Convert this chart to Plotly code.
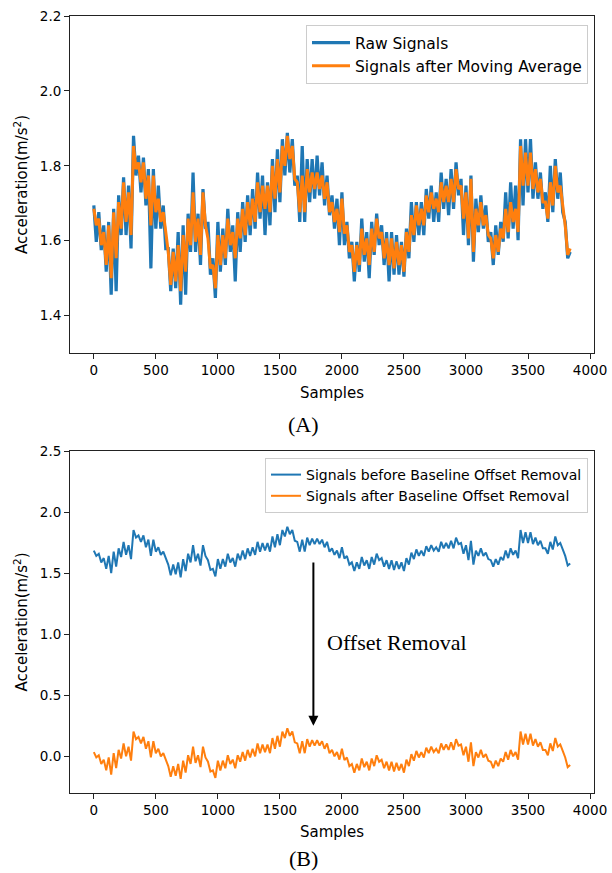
import plotly.graph_objects as go

# ---- data ----
# Band extents of each signal, read every 40 samples (0 ... 3840).
block = 40

raw_high = [
    1.694, 1.676, 1.641, 1.650, 1.685, 1.721, 1.769, 1.747, 1.880, 1.827,
    1.822, 1.791, 1.791, 1.747, 1.694, 1.579, 1.579, 1.623, 1.641, 1.672,
    1.782, 1.672, 1.738, 1.650, 1.553, 1.650, 1.632, 1.685, 1.641, 1.676,
    1.703, 1.721, 1.738, 1.782, 1.774, 1.756, 1.818, 1.844, 1.871, 1.888,
    1.871, 1.774, 1.853, 1.818, 1.818, 1.827, 1.809, 1.774, 1.721, 1.712,
    1.729, 1.650, 1.597, 1.597, 1.659, 1.623, 1.650, 1.672, 1.641, 1.623,
    1.623, 1.615, 1.597, 1.632, 1.703, 1.703, 1.703, 1.738, 1.747, 1.729,
    1.782, 1.765, 1.791, 1.809, 1.765, 1.747, 1.774, 1.712, 1.721, 1.694,
    1.623, 1.641, 1.650, 1.729, 1.756, 1.747, 1.871, 1.871, 1.871, 1.809,
    1.782, 1.729, 1.800, 1.818, 1.782, 1.650, 1.570,
]
raw_low = [
    1.597, 1.575, 1.517, 1.456, 1.465, 1.615, 1.615, 1.579, 1.774, 1.729,
    1.694, 1.526, 1.632, 1.632, 1.579, 1.465, 1.473, 1.429, 1.456, 1.570,
    1.570, 1.535, 1.632, 1.509, 1.447, 1.517, 1.535, 1.570, 1.491, 1.570,
    1.597, 1.615, 1.632, 1.659, 1.615, 1.641, 1.676, 1.703, 1.774, 1.782,
    1.747, 1.650, 1.650, 1.703, 1.712, 1.721, 1.694, 1.668, 1.632, 1.588,
    1.588, 1.553, 1.491, 1.517, 1.544, 1.500, 1.562, 1.588, 1.535, 1.491,
    1.509, 1.509, 1.504, 1.553, 1.597, 1.615, 1.615, 1.659, 1.650, 1.650,
    1.685, 1.668, 1.685, 1.721, 1.615, 1.588, 1.544, 1.623, 1.632, 1.597,
    1.535, 1.562, 1.597, 1.606, 1.632, 1.601, 1.694, 1.729, 1.712, 1.712,
    1.685, 1.650, 1.676, 1.712, 1.676, 1.553, 1.509,
]
ma_high = [
    1.685, 1.659, 1.623, 1.641, 1.676, 1.703, 1.756, 1.729, 1.853, 1.809,
    1.809, 1.774, 1.774, 1.712, 1.676, 1.570, 1.570, 1.588, 1.615, 1.659,
    1.729, 1.659, 1.729, 1.606, 1.535, 1.615, 1.615, 1.659, 1.623, 1.659,
    1.685, 1.703, 1.712, 1.756, 1.747, 1.747, 1.800, 1.818, 1.853, 1.880,
    1.853, 1.756, 1.774, 1.791, 1.782, 1.782, 1.774, 1.756, 1.703, 1.685,
    1.712, 1.641, 1.588, 1.588, 1.632, 1.606, 1.632, 1.659, 1.623, 1.606,
    1.606, 1.597, 1.588, 1.623, 1.668, 1.694, 1.685, 1.721, 1.729, 1.712,
    1.756, 1.747, 1.765, 1.791, 1.747, 1.729, 1.765, 1.685, 1.703, 1.668,
    1.606, 1.615, 1.632, 1.685, 1.703, 1.685, 1.853, 1.835, 1.835, 1.791,
    1.765, 1.703, 1.756, 1.800, 1.747, 1.641, 1.579,
]
ma_low = [
    1.641, 1.588, 1.535, 1.500, 1.553, 1.632, 1.650, 1.615, 1.791, 1.756,
    1.712, 1.641, 1.676, 1.650, 1.615, 1.482, 1.491, 1.465, 1.517, 1.588,
    1.597, 1.562, 1.641, 1.526, 1.473, 1.535, 1.553, 1.588, 1.553, 1.606,
    1.615, 1.641, 1.650, 1.676, 1.685, 1.676, 1.712, 1.729, 1.800, 1.818,
    1.765, 1.676, 1.676, 1.729, 1.738, 1.738, 1.712, 1.676, 1.650, 1.623,
    1.619, 1.570, 1.517, 1.535, 1.562, 1.535, 1.570, 1.606, 1.553, 1.535,
    1.526, 1.535, 1.517, 1.570, 1.615, 1.641, 1.641, 1.676, 1.685, 1.676,
    1.703, 1.703, 1.703, 1.738, 1.659, 1.606, 1.570, 1.641, 1.641, 1.615,
    1.553, 1.570, 1.606, 1.623, 1.650, 1.623, 1.747, 1.747, 1.738, 1.729,
    1.703, 1.659, 1.694, 1.729, 1.694, 1.562, 1.535,
]

baseline_offset = 1.65

x_ticks = [0, 500, 1000, 1500, 2000, 2500, 3000, 3500, 4000]
top_y_ticks = [1.4, 1.6, 1.8, 2.0, 2.2]
bottom_y_ticks = [0.0, 0.5, 1.0, 1.5, 2.0, 2.5]


def band_to_line(low, high):
    """Draw each 40-sample block's band as a high/low zig-zag stroke."""
    xs, ys = [], []
    for i, (lo, hi) in enumerate(zip(low, high)):
        base = i * block
        xs += [base, base + block / 2]
        ys += [hi, lo]
    return xs[:-1], ys[:-1]


raw_x, raw_y = band_to_line(raw_low, raw_high)
ma_x, ma_y = band_to_line(ma_low, ma_high)
removed_y = [v - baseline_offset for v in ma_y]

BLUE = "#1f77b4"
ORANGE = "#ff7f0e"
W, H = 612, 873

fig = go.Figure()
fig.add_trace(go.Scatter(x=raw_x, y=raw_y, mode="lines", name="Raw Signals",
                         line=dict(color=BLUE, width=3.2), xaxis="x", yaxis="y", legend="legend"))
fig.add_trace(go.Scatter(x=ma_x, y=ma_y, mode="lines", name="Signals after Moving Average",
                         line=dict(color=ORANGE, width=3.0), xaxis="x", yaxis="y", legend="legend"))
fig.add_trace(go.Scatter(x=ma_x, y=ma_y, mode="lines", name="Signals before Baseline Offset Removal",
                         line=dict(color=BLUE, width=2.0), xaxis="x2", yaxis="y2", legend="legend2"))
fig.add_trace(go.Scatter(x=ma_x, y=removed_y, mode="lines", name="Signals after Baseline Offset Removal",
                         line=dict(color=ORANGE, width=2.0), xaxis="x2", yaxis="y2", legend="legend2"))

tick_font = dict(family="DejaVu Sans", size=13.5, color="#000000")
axis_common = dict(showline=True, linecolor="#222222", linewidth=1, mirror=True,
                   ticks="outside", ticklen=5, tickwidth=1, tickcolor="#222222",
                   showgrid=False, zeroline=False, tickfont=tick_font, automargin=False)

xdom = [70 / W, 594 / W]
title_font = dict(family="DejaVu Sans", size=15, color="#000000")
fig.update_layout(
    width=W, height=H,
    margin=dict(l=0, r=0, t=0, b=0, autoexpand=False),
    paper_bgcolor="white", plot_bgcolor="white",
    font=dict(family="DejaVu Sans", size=13, color="#000000"),
    xaxis=dict(domain=xdom, anchor="y", range=[-192, 4032], tickvals=x_ticks,
               title=dict(text="Samples", standoff=10, font=title_font), **axis_common),
    yaxis=dict(domain=[1 - 353 / H, 1 - 16 / H], anchor="x", range=[1.3, 2.2],
               tickvals=top_y_ticks, tickformat=".1f",
               title=dict(text="Acceleration(m/s<sup>2</sup>)", standoff=8, font=title_font),
               **axis_common),
    xaxis2=dict(domain=xdom, anchor="y2", range=[-192, 4032], tickvals=x_ticks,
                title=dict(text="Samples", standoff=9, font=title_font), **axis_common),
    yaxis2=dict(domain=[1 - 793 / H, 1 - 451 / H], anchor="x2", range=[-0.3, 2.5],
                tickvals=bottom_y_ticks, tickformat=".1f",
                title=dict(text="Acceleration(m/s<sup>2</sup>)", standoff=8, font=title_font),
                **axis_common),
    legend=dict(x=588 / W, y=1 - 25 / H, xanchor="right", yanchor="top",
                bgcolor="rgba(255,255,255,0.8)", bordercolor="#cccccc", borderwidth=1,
                font=dict(size=15.5), tracegroupgap=0, itemwidth=38),
    legend2=dict(x=588 / W, y=1 - 458 / H, xanchor="right", yanchor="top",
                 bgcolor="rgba(255,255,255,0.8)", bordercolor="#cccccc", borderwidth=1,
                 font=dict(size=14), tracegroupgap=0, itemwidth=30),
    showlegend=True,
)

serif = "Liberation Serif, Times New Roman, serif"
fig.add_annotation(xref="paper", yref="paper", x=303 / W, y=1 - 424 / H, text="(A)",
                   showarrow=False, font=dict(family=serif, size=22, color="black"),
                   xanchor="center", yanchor="middle")
fig.add_annotation(xref="paper", yref="paper", x=303 / W, y=1 - 858 / H, text="(B)",
                   showarrow=False, font=dict(family=serif, size=22, color="black"),
                   xanchor="center", yanchor="middle")

# arrow and label in the lower panel
fig.add_annotation(xref="x2", yref="y2", x=1770, y=0.25, axref="x2", ayref="y2",
                   ax=1770, ay=1.6, text="", showarrow=True, arrowhead=2,
                   arrowsize=1, arrowwidth=2, arrowcolor="black")
fig.add_annotation(xref="x2", yref="y2", x=1860, y=0.93, text="Offset Removal",
                   showarrow=False, xanchor="left", yanchor="middle",
                   font=dict(family=serif, size=22, color="black"))

fig.write_html("out.html", config={"displayModeBar": False},
               post_script="document.body.style.margin='0';")
